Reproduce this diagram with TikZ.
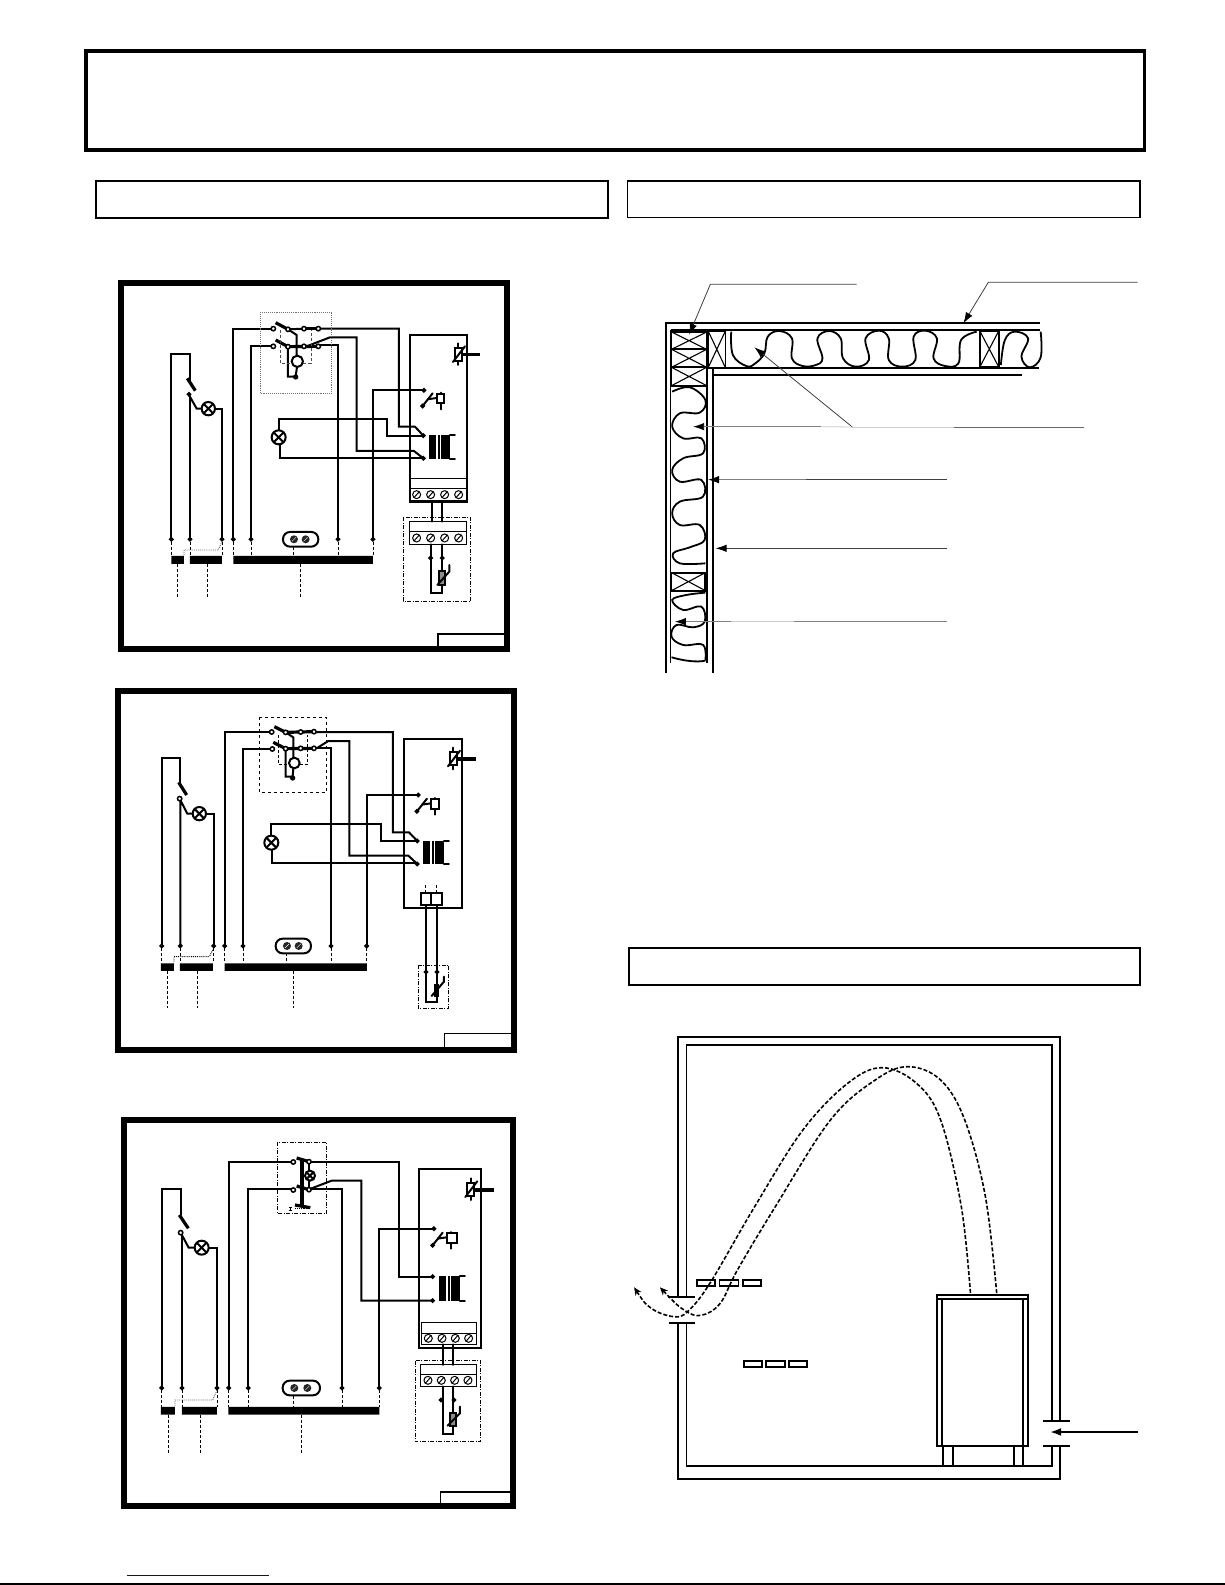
\documentclass[tikz,border=0pt]{standalone}
\usetikzlibrary{arrows.meta}
\definecolor{linkblue}{RGB}{0,0,204}
\tikzset{
  wire/.style={line width=2pt,line cap=round,line join=miter},
  blade/.style={line width=3.2pt},
  thin box/.style={line width=1pt},
  frame/.style={line width=6pt},
  header/.style={line width=1.6pt},
  drop/.style={line width=.9pt,densely dashed},
  link/.style={line width=.9pt,densely dotted},
  dashbox/.style={line width=.9pt,dash pattern=on 4pt off 1.5pt on 1pt off 1.5pt},
  leader/.style={line width=.8pt,draw=black!75},
  ltip/.style={-{Latex[length=11pt,width=7.5pt,color=black]}},
  wall/.style={line width=1.8pt},
  flue/.style={line width=1.6pt,dash pattern=on 4pt off 2pt},
}
\newcommand{\tdot}[2]{\fill (#1-8,#2) -- (#1,#2-8) -- (#1+8,#2) -- (#1,#2+8) -- cycle;}
\newcommand{\rdot}[2]{\draw[line width=1.5pt,fill=white] (#1,#2) circle (6.5);}
\newcommand{\lampx}[3]{\draw[wire,fill=white] (#1,#2) circle (#3);
  \draw[wire] (#1-.7*#3,#2-.7*#3) -- (#1+.7*#3,#2+.7*#3) (#1-.7*#3,#2+.7*#3) -- (#1+.7*#3,#2-.7*#3);}
\newcommand{\screw}[2]{\draw[line width=1pt,fill=white] (#1,#2) circle (12);
  \draw[line width=1pt] (#1-8,#2+9) -- (#1+8,#2-9);}
\newcommand{\sock}[5]{\draw[wire,rounded corners=7pt] (#1,#2-22) rectangle (#3,#2+22);
  \foreach \sx in {#4,#5}{\fill[black!85] (\sx,#2) circle (12);\draw[white,line width=.4pt] (\sx-6,#2+6) -- (\sx+6,#2-6);}}
\newcommand{\xfmr}[3]{\fill (#1,#2) rectangle (#1+21,#3);
  \fill (#1+26,#2) rectangle (#1+32,#3);
  \fill (#1+36,#2) rectangle (#1+62,#3);
  \draw[wire] (#1+62,#2) -- (#1+77,#2) (#1+62,#3) -- (#1+77,#3);}
\newcommand{\ptc}[2]{\draw[wire] (#1,#2-33) -- (#1,#2+32);
  \draw[wire,fill=white] (#1-10,#2-20) rectangle (#1+10,#2+20);
  \draw[wire] (#1-16,#2+23) -- (#1+20,#2-24);}
\newcommand{\relayc}[3]{\draw[wire] (#1,#2+26) -- (#1+30,#2-12);
  \draw[line width=2pt] (#1+14,#2+6) -- (#1+42,#2+2);
  \draw[wire] (#1+54,#2-14) -- (#1+54,#2+36);
  \draw[wire,fill=white] (#1+42,#2-10) rectangle (#1+#3,#2+18);
  \tdot{#1}{#2+26}}
\begin{document}
\begin{tikzpicture}[x=1pt,y=-1pt]
\useasboundingbox (0,0) rectangle (1225,1585);
\fill[white] (0,0) rectangle (1225,1585);
% page frames
\draw[line width=3.5pt] (86,51) rectangle (1144.5,150);
\draw[header] (96,181) rectangle (608,218);
\draw[header] (627.5,181) rectangle (1140,217.5);
\draw[header] (629,948) rectangle (1140,985);
% bottom link rule and page edge
\draw[line width=1pt,linkblue] (127,1575) -- (269,1575);
\draw[line width=1.2pt] (0,1584) -- (1225,1584);

% ===================== PANEL 1
\begin{scope}[shift={(110,270)},x=.3333pt,y=-.3333pt]
\draw[frame] (33,39) rectangle (1191,1137);
\draw[header] (984,1137) -- (984,1092) -- (1191,1092);
% left branch
\draw[wire] (184,808) -- (184,252) -- (240,252) -- (240,335);
\draw[blade] (232,325) -- (256,362);
\draw[wire] (240,808) -- (240,378);
\draw[wire] (237,375) -- (260,416) -- (275,416);
\draw[wire] (315,416) -- (336,416) -- (336,808);
\lampx{295}{416}{20}
\tdot{237}{373}
% switch wires
\draw[wire] (370,808) -- (370,176) -- (490,176);
\draw[wire] (423,808) -- (423,228) -- (490,228);
\draw[wire] (625,176) -- (867,176) -- (867,470) -- (915,470) -- (940,497);
\draw[wire] (590,229) -- (660,202) -- (740,202) -- (740,543) -- (912,543) -- (940,565);
\draw[wire] (625,224) -- (684,224) -- (684,808);
\draw[blade] (497,158) -- (534,178);
\draw[blade] (497,210) -- (534,230);
\draw[wire] (534,178) -- (582,176);
\draw[blade] (582,176) -- (625,176);
\draw[blade] (534,230) -- (625,229);
\draw[wire] (534,178) -- (560,195) -- (560,258);
\draw[wire] (534,230) -- (534,320) -- (557,320) (561,291) -- (557,320);
\draw[wire,fill=white] (562,274) circle (17);
\fill[black] (557,321) circle (8);
\foreach \x/\y in {490/176,534/178,582/176,625/176,490/229,534/230,582/229,625/229}{\rdot{\x}{\y}}
\draw[drop,black!70] (512,180) -- (512,280) -- (545,280) (580,280) -- (603,280) -- (603,180);
\draw[link,black!55] (450,127) rectangle (665,370);
% lamp 2
\draw[wire] (506,481) -- (506,447) -- (831,447) -- (831,497) -- (940,497);
\draw[wire] (509,523) -- (509,564) -- (940,564);
\lampx{506}{502}{21}
% relay contact
\draw[wire] (789,808) -- (789,361) -- (942,361);
\tdot{942}{361}
\relayc{938}{382}{65}
% control box
\draw[wire] (900,195) rectangle (1071,695);
\draw[thin box] (900,627) -- (1071,627) (900,657) -- (1071,657);
\draw[line width=2.4pt] (900,695) -- (1071,695);
\foreach \x in {920,962,1004,1046}{\screw{\x}{674}}
\xfmr{958}{494}{566}
\tdot{940}{497}\tdot{940}{565}
\ptc{1045}{253}
\draw[line width=3pt] (1056,255) -- (1110,255);
% sensor
\draw[wire] (966,695) -- (966,755) (997,695) -- (997,755);
\draw[dashbox] (880,742) rectangle (1082,994);
\draw[thin box] (898,755) rectangle (1070,823) (898,786) -- (1070,786);
\foreach \x in {920,962,1004,1046}{\screw{\x}{804}}
\draw[wire] (962,823) -- (962,970) -- (997,970) -- (997,823);
\tdot{962}{864}\tdot{997}{864}
\draw[wire,fill=black!45] (988,904) rectangle (1006,946);
\draw[wire] (982,945) -- (1018,905) -- (1018,885);
% bottom
\sock{519}{808}{625}{552}{587}
\foreach \x in {184,240,336,370,423,684,789}{\tdot{\x}{808}\draw[drop] (\x,815) -- (\x,858);}
\draw[drop] (551,830) -- (551,858);
\draw[link,black!60] (336,815) -- (325,840) -- (222,840) -- (222,858);
\fill (184,858) rectangle (222,882) (240,858) rectangle (336,882) (370,858) rectangle (789,882);
\foreach \x in {203,293,572}{\draw[drop] (\x,882) -- (\x,985);}
\end{scope}

% ===================== PANEL 2
\begin{scope}[shift={(110,680)},x=.3333pt,y=-.3333pt]
\draw[frame] (24,33) rectangle (1211,1109);
\draw[thin box] (1003,1100) -- (1003,1060) -- (1202,1060);
\draw[wire] (155,798) -- (155,234) -- (211,234) -- (211,310);
\draw[blade] (206,307) -- (230,345);
\draw[wire] (211,798) -- (211,360) -- (232,401) -- (247,401);
\draw[wire] (289,401) -- (311,401) -- (311,798);
\lampx{268}{401}{20}
\rdot{209}{356}
\draw[wire] (344,798) -- (344,156) -- (485,156);
\draw[wire] (399,798) -- (399,208) -- (485,208);
\draw[wire] (612,156) -- (849,156) -- (849,457) -- (897,457) -- (922,483);
\draw[wire] (612,205) -- (663,205) -- (663,798);
\draw[wire] (620,205) -- (655,183) -- (718,183) -- (718,527) -- (895,527) -- (922,552);
\draw[blade] (493,140) -- (527,157);
\draw[blade] (490,187) -- (527,206);
\draw[blade] (527,157) -- (612,155);
\draw[blade] (527,206) -- (612,205);
\draw[wire] (527,157) -- (550,172) -- (550,235);
\draw[wire] (527,206) -- (527,290) -- (548,290) (550,265) -- (548,290);
\draw[wire,fill=white] (553,249) circle (16);
\fill[black] (548,294) circle (8);
\foreach \x/\y in {485/156,527/157,572/156,612/155,487/207,527/206,572/205,612/205}{\rdot{\x}{\y}}
\draw[drop] (504,165) -- (504,253) -- (535,253) (570,253) -- (592,253) -- (592,165);
\draw[line width=.7pt,dashed] (448,112) rectangle (649,338);
\draw[wire] (482,467) -- (482,432) -- (813,432) -- (813,483) -- (922,483);
\draw[wire] (486,509) -- (486,549) -- (922,549);
\lampx{484}{488}{21}
\draw[wire] (770,798) -- (770,345) -- (925,345);
\tdot{925}{345}
\relayc{921}{368}{67}
\draw[wire] (882,177) rectangle (1057,684);
\xfmr{940}{482}{553}
\tdot{922}{483}\tdot{922}{552}
\ptc{1030}{236}
\draw[line width=3.4pt] (1040,237) -- (1097,237);
\draw[wire] (933,638) rectangle (963,675) (963,638) rectangle (997,675);
\draw[drop] (947,615) -- (947,638) (980,615) -- (980,638);
\draw[wire] (947,675) -- (947,965) -- (981,965) -- (981,675);
\tdot{948}{876}\tdot{981}{876}
\draw[dashbox] (925,856) rectangle (1016,986);
\fill[black] (973,912) rectangle (988,950);
\draw[wire] (965,948) -- (1002,905) -- (1002,890);
\sock{497}{798}{603}{531}{566}
\foreach \x in {155,211,311,344,399,663,770}{\tdot{\x}{798}\draw[drop] (\x,805) -- (\x,850);}
\draw[drop] (529,820) -- (529,850);
\draw[link] (311,805) -- (298,830) -- (192,830) -- (192,850);
\fill (153,850) rectangle (192,873) (210,850) rectangle (309,873) (344,850) rectangle (771,873);
\foreach \x in {172,263,550}{\draw[drop] (\x,873) -- (\x,985);}
\end{scope}

% ===================== PANEL 3
\begin{scope}[shift={(110,1110)},x=.3333pt,y=-.3333pt]
\draw[frame] (42,31) rectangle (1210,1188);
\draw[header] (992,1188) -- (992,1146) -- (1200,1146);
\draw[wire] (155,834) -- (155,238) -- (213,238) -- (213,315);
\draw[blade] (208,315) -- (235,355);
\draw[wire] (216,834) -- (216,372);
\draw[wire] (212,368) -- (236,413) -- (253,413);
\draw[wire] (296,413) -- (321,413) -- (321,834);
\lampx{275}{413}{21}
\rdot{212}{368}
\draw[wire] (356,834) -- (356,156) -- (550,156);
\draw[wire] (415,834) -- (415,238) -- (550,238);
\draw[wire] (597,155) -- (866,155) -- (866,500) -- (968,500);
\draw[wire] (597,236) -- (696,236) -- (696,834);
\draw[wire] (605,235) -- (665,212) -- (754,212) -- (754,572) -- (968,572);
\draw[line width=3.6pt] (576,146) -- (576,285);
\draw[blade] (560,144) -- (597,155);
\draw[blade] (560,228) -- (597,239);
\draw[blade] (555,285) -- (601,293);
\draw[link] (555,296) -- (600,296);
\draw[line width=.8pt] (537,293) -- (545,293) (541,293) -- (541,301) (537,301) -- (545,301);
\draw[wire] (597,155) -- (597,239);
\lampx{600}{197}{15}
\foreach \x/\y in {550/156,597/155,550/240,597/239}{\rdot{\x}{\y}}
\draw[dashbox] (502,97) rectangle (650,310);
\draw[wire] (808,834) -- (808,356) -- (972,356);
\tdot{972}{356}
\relayc{968}{380}{72}
\draw[wire] (927,177) rectangle (1114,715);
\xfmr{988}{498}{574}
\tdot{968}{500}\tdot{968}{572}
\ptc{1082}{238}
\draw[line width=3.4pt] (1092,240) -- (1152,240);
\draw[thin box] (934,638) rectangle (1100,703) (934,670) -- (1100,670);
\foreach \x in {955,996,1036,1076}{\screw{\x}{685}}
\draw[wire] (998,703) -- (998,765) (1028,703) -- (1028,765);
\draw[dashbox] (916,752) rectangle (1112,995);
\draw[thin box] (932,765) rectangle (1099,829) (932,795) -- (1099,795);
\foreach \x in {954,994,1034,1074}{\screw{\x}{811}}
\draw[wire] (998,829) -- (998,972) -- (1030,972) -- (1030,829);
\tdot{993}{870}\tdot{1032}{870}
\draw[wire,fill=black!45] (1020,908) rectangle (1038,948);
\draw[wire] (1013,947) -- (1050,910) -- (1050,890);
\sock{518}{834}{630}{553}{592}
\foreach \x in {155,216,321,356,415,696,808}{\tdot{\x}{834}\draw[drop] (\x,841) -- (\x,891);}
\draw[drop] (551,857) -- (551,891);
\draw[link,black!60] (321,841) -- (308,870) -- (195,870) -- (195,891);
\fill (153,891) rectangle (195,914) (216,891) rectangle (321,914) (355,891) rectangle (808,914);
\foreach \x in {176,271,575}{\draw[drop] (\x,914) -- (\x,1028);}
\end{scope}

% ===================== INSULATION SECTION
\begin{scope}[shift={(640,270)},x=.3317pt,y=-.3333pt]
\draw[wall,line join=miter] (78,1210) -- (78,160) -- (1205,160);
\draw[wall] (92,180) -- (1205,180);
\draw[wall] (205,294) -- (1203,294);
\draw[wall] (218,314) -- (1152,314);
\draw[wall] (220,1210) -- (220,295);
\draw[wall] (92,180) -- (92,1180);
\draw[wall] (201,180) -- (201,1180);
% studs
\foreach \a/\b/\c/\d in {95/186/201/238,95/238/201/292,95/292/201/347,205/182/258/294,1024/182/1082/292,95/908/197/962}{
  \draw[wall] (\a,\b) rectangle (\c,\d);
  \draw[line width=1.1pt] (\a,\b) -- (\c,\d) (\a,\d) -- (\c,\b);}
% insulation
\draw[wall] plot[smooth,tension=.65] coordinates {(275,185) (280,255) (320,288) (345,282) (375,250) (385,200) (420,183) (458,205) (458,265) (490,288) (530,285) (550,265) (535,205) (570,183) (605,205) (612,265) (650,290) (690,270) (680,205) (720,182) (750,205) (750,270) (790,290) (830,270) (825,200) (860,182) (895,205) (885,265) (920,288) (960,280) (968,210) (1015,185)};
\draw[wall] plot[smooth,tension=.65] coordinates {(1088,285) (1100,210) (1130,185) (1170,205) (1150,260) (1175,292) (1208,262) (1208,185)};
\draw[wall] plot[smooth,tension=.65] coordinates {(97,365) (150,352) (197,390) (180,428) (120,430) (97,470) (130,505) (185,505) (190,550) (130,565) (97,600) (120,635) (185,630) (190,680) (120,695) (97,730) (120,765) (180,765) (195,810) (150,832) (100,850) (120,880) (197,880)};
\draw[wall] plot[smooth,tension=.65] coordinates {(197,968) (140,975) (97,990) (130,1020) (185,1010) (195,1055) (160,1072) (110,1065) (95,1100) (130,1125) (190,1125) (197,1172)};
\draw[wall] (95,1162) .. controls (130,1172) and (170,1178) .. (197,1172);
% leaders
\draw[leader,ltip] (653,43) -- (212,43) -- (148,194);
\draw[leader,ltip] (1500,37) -- (1050,37) -- (975,160);
\draw[leader,black!60] (1340,471) -- (948,471);
\draw[leader,black!20] (948,471) -- (640,471);
\draw[leader,ltip] (640,471) -- (345,232);
\draw[leader,black!20] (640,471) -- (545,470);
\draw[leader,black!50,ltip] (545,470) -- (160,470);
\draw[leader] (925,629) -- (500,629);
\draw[leader,black!50,ltip] (500,629) -- (205,629);
\draw[leader,ltip] (927,835) -- (228,835);
\draw[leader,black!50] (927,1055) -- (465,1055);
\draw[leader,black!20] (465,1055) -- (275,1055);
\draw[leader,black!50,ltip] (275,1055) -- (105,1055);
\end{scope}

% ===================== ROOM SECTION
\begin{scope}[shift={(610,1020)},x=.3444pt,y=-.3333pt]
\draw[wall] (197,831) -- (197,50) -- (1307,50) -- (1307,1203);
\draw[wall] (1307,1277) -- (1307,1376) -- (197,1376) -- (197,908);
\draw[wall] (222,831) -- (222,74) -- (1284,74) -- (1284,1203);
\draw[wall] (1284,1277) -- (1284,1338) -- (222,1338) -- (222,908);
\draw[wall] (168,831) -- (248,831) (170,908) -- (248,908);
\draw[wall] (1258,1203) -- (1337,1203) (1258,1277) -- (1337,1277);
% heater
\draw[wall] (950,825) rectangle (1214,1278);
\draw[wall] (950,838) -- (1214,838);
\draw[wall] (965,838) -- (965,1278) (1198,838) -- (1198,1278);
\draw[wall] (967,1278) -- (967,1335) (996,1278) -- (996,1335) (1172,1278) -- (1172,1335) (1199,1278) -- (1199,1335);
% flue
\draw[flue,{Stealth[length=8pt,width=7pt]}-] plot[smooth,tension=.6] coordinates {(70,802) (120,865) (185,890) (225,875) (290,790) (420,560) (560,330) (690,190) (790,143) (890,190) (960,300) (1020,560) (1047,825)};
\draw[flue,{Stealth[length=8pt,width=7pt]}-] plot[smooth,tension=.6] coordinates {(145,802) (215,870) (265,886) (320,850) (370,750) (480,560) (640,300) (770,180) (865,140) (960,180) (1030,300) (1090,530) (1123,822)};
% vents
\foreach \a/\b in {252/305,318/373,385/438}{\draw[wall] (\a,779) rectangle (\b,798);}
\foreach \a/\b in {388/441,454/509,519/573}{\draw[wall] (\a,1022) rectangle (\b,1041);}
\draw[wall,-{Latex[length=11pt,width=8pt]}] (1533,1236) -- (1278,1236);
\end{scope}
\end{tikzpicture}
\end{document}
